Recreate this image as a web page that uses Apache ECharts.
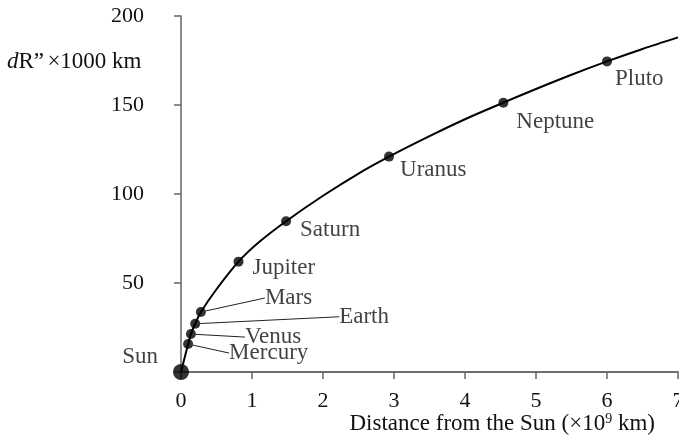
<!DOCTYPE html>
<html>
<head>
<meta charset="utf-8">
<script src="https://cdn.jsdelivr.net/npm/echarts@6/dist/echarts.min.js"></script>
<style>
  html, body { margin: 0; padding: 0; background: #fff; }
  #chart { width: 679px; height: 437px; }
</style>
</head>
<body>
<div id="chart"></div>
<script>
// Planets: distance from the Sun (×10^9 km) and dR” (×1000 km)
const planetNames = ['Mercury', 'Venus', 'Earth', 'Mars', 'Jupiter', 'Saturn', 'Uranus', 'Neptune', 'Pluto'];
const planetDist  = [0.10, 0.14, 0.20, 0.28, 0.81, 1.48, 2.93, 4.54, 6.00];
const planetDR    = [15.7, 21.3, 27.1, 33.7, 62.0, 84.7, 121.0, 151.3, 174.5];

// Readings along the drawn curve
const curveDist = [0, 0.10, 0.14, 0.20, 0.28, 0.50, 0.81, 1.10, 1.48, 2.00, 2.50, 2.93, 3.50, 4.00, 4.54, 5.00, 5.50, 6.00, 6.50, 7.00];
const curveDR   = [0, 15.7, 21.3, 27.1, 33.7, 46.5, 62.0, 73.0, 84.7, 99.0, 111.5, 121.0, 132.5, 142.0, 151.3, 159.0, 167.0, 174.5, 181.5, 188.0];

const xTicks = [0, 1, 2, 3, 4, 5, 6, 7];
const yTicks = [50, 100, 150, 200];

// Label placement relative to each dot (pixels): dx to the text's left edge, dy to its middle
const labelPlacement = {
  Mercury: { dx: 41, dy: 9, leader: true },
  Venus:   { dx: 54, dy: 3, leader: true },
  Earth:   { dx: 144, dy: -7, leader: true },
  Mars:    { dx: 64, dy: -14, leader: true },
  Jupiter: { dx: 14, dy: 6 },
  Saturn:  { dx: 14, dy: 9 },
  Uranus:  { dx: 11, dy: 13 },
  Neptune: { dx: 13, dy: 19 },
  Pluto:   { dx: 8, dy: 18 }
};
const LEADER_GAP = 9;

const FONT = '"Liberation Serif", "Times New Roman", serif';
const TEXT = '#111';
const AXIS = '#666';

const chart = echarts.init(document.getElementById('chart'), null, { renderer: 'canvas' });

const planetData = planetNames.map((n, i) => ({
  name: n,
  value: [planetDist[i], planetDR[i]],
  labelLine: { show: !!labelPlacement[n].leader }
}));

chart.setOption({
  animation: false,
  backgroundColor: '#fff',
  grid: { left: 181, right: 1, top: 16, bottom: 65, containLabel: false, outerBoundsMode: 'none' },
  xAxis: [{
    type: 'value', min: xTicks[0], max: xTicks[xTicks.length - 1], interval: 1,
    axisLine: { show: true, onZero: false, lineStyle: { color: AXIS, width: 1.5 } },
    axisTick: { show: true, length: 7, lineStyle: { color: AXIS, width: 1.5 } },
    splitLine: { show: false },
    axisLabel: { margin: 18, fontFamily: FONT, fontSize: 22, color: TEXT }
  }, {
    type: 'value', position: 'top', min: 0, max: 7,
    axisLine: { show: true, lineStyle: { color: AXIS, width: 1.5 } },
    axisTick: { show: false }, axisLabel: { show: false }, splitLine: { show: false }
  }],
  yAxis: {
    type: 'value', min: 0, max: yTicks[yTicks.length - 1], interval: 50,
    axisLine: { show: true, lineStyle: { color: AXIS, width: 1.5 } },
    axisTick: { show: true, length: 7, lineStyle: { color: AXIS, width: 1.5 } },
    splitLine: { show: false },
    axisLabel: {
      margin: 37, fontFamily: FONT, fontSize: 22, color: TEXT,
      formatter: v => (yTicks.indexOf(v) >= 0 ? String(v) : '')
    }
  },
  graphic: [{
    type: 'text', left: 7, top: 50,
    style: {
      text: '{i|d}{r|R”} {r|×1000 km}',
      rich: {
        i: { fontFamily: FONT, fontSize: 23, fontStyle: 'italic', fill: TEXT },
        r: { fontFamily: FONT, fontSize: 23, fill: TEXT }
      }
    }
  }, {
    type: 'text', right: 24, top: 412,
    style: {
      text: '{a|Distance from the Sun (×10}{s|9}{a| km)}',
      rich: {
        a: { fontFamily: FONT, fontSize: 23, fill: TEXT },
        s: { fontFamily: FONT, fontSize: 14, fill: TEXT, verticalAlign: 'top', padding: [0, 0, 8, 0] }
      }
    }
  }],
  series: [{
    type: 'line',
    data: curveDist.map((x, i) => [x, curveDR[i]]),
    smooth: 0.3,
    showSymbol: false, clip: false,
    lineStyle: { color: '#000', width: 2 },
    z: 2
  }, {
    type: 'scatter',
    data: planetData,
    symbolSize: 10,
    itemStyle: { color: '#000' },
    label: {
      show: true, formatter: '{b}',
      fontFamily: FONT, fontSize: 23, color: TEXT,
      padding: [0, 0, 0, LEADER_GAP]
    },
    labelLine: { lineStyle: { color: '#222', width: 1 } },
    labelLayout: params => {
      const p = labelPlacement[planetNames[params.dataIndex]];
      const cx = params.rect.x + params.rect.width / 2;
      const cy = params.rect.y + params.rect.height / 2;
      return { x: cx + p.dx - LEADER_GAP, y: cy + p.dy, align: 'left', verticalAlign: 'middle' };
    },
    z: 3
  }, {
    type: 'scatter',
    data: [{ name: 'Sun', value: [0, 0] }],
    symbolSize: 16,
    itemStyle: { color: '#000' },
    clip: false,
    label: {
      show: true, formatter: '{b}', position: 'left', distance: 15,
      fontFamily: FONT, fontSize: 23, color: TEXT,
      offset: [0, -15]
    },
    z: 4
  }]
});
</script>
</body>
</html>
